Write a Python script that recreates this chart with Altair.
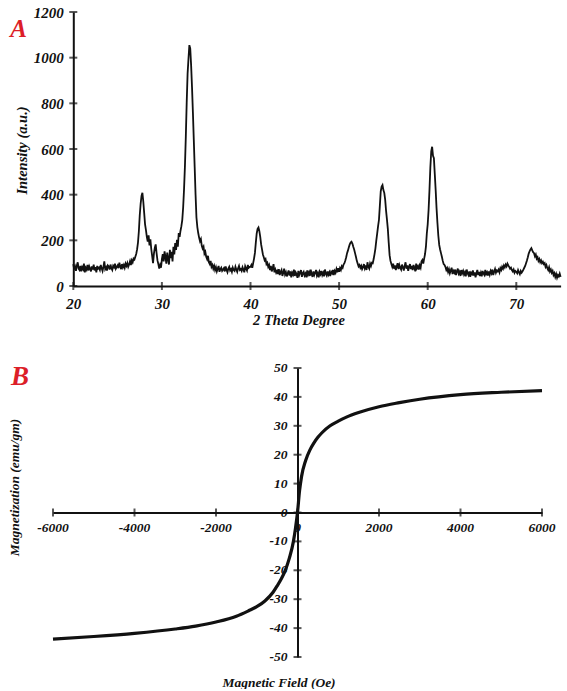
import altair as alt
import pandas as pd

# ---------------- Panel A: XRD pattern ----------------
# Intensity (a.u.) sampled every 0.1 degree of 2-theta, one row per degree (20.0 ... 74.9), plus 75.0
two_theta_start = 20.0
two_theta_step = 0.1
intensity_rows = [
    [96, 72, 84, 66, 90, 104, 76, 70, 88, 64],        # 20
    [82, 74, 98, 60, 80, 72, 92, 68, 86, 76],         # 21
    [64, 86, 72, 94, 68, 82, 60, 88, 76, 80],         # 22
    [70, 92, 78, 66, 84, 108, 74, 82, 68, 90],        # 23
    [86, 72, 94, 78, 70, 88, 82, 98, 76, 84],         # 24
    [90, 78, 102, 86, 74, 96, 82, 92, 80, 98],        # 25
    [88, 100, 84, 94, 108, 92, 112, 104, 120, 116],   # 26
    [128, 140, 160, 190, 240, 310, 360, 395, 408, 370],  # 27
    [320, 270, 245, 215, 195, 222, 178, 204, 162, 132],  # 28
    [100, 142, 168, 182, 144, 112, 96, 76, 92, 80],   # 29
    [118, 140, 108, 152, 128, 98, 146, 118, 94, 158], # 30
    [122, 150, 108, 172, 138, 188, 158, 202, 172, 232],  # 31
    [215, 242, 262, 290, 345, 425, 525, 655, 805, 930],  # 32
    [995, 1055, 1040, 965, 870, 760, 640, 520, 400, 300],  # 33
    [258, 232, 212, 196, 205, 176, 164, 172, 142, 150],  # 34
    [128, 118, 132, 104, 96, 110, 84, 92, 76, 88],    # 35
    [70, 82, 64, 76, 88, 62, 74, 80, 66, 72],         # 36
    [78, 64, 86, 70, 60, 76, 84, 68, 74, 62],         # 37
    [80, 70, 66, 84, 72, 62, 78, 88, 70, 74],         # 38
    [66, 82, 72, 60, 86, 76, 68, 92, 80, 84],         # 39
    [84, 92, 80, 100, 120, 145, 190, 230, 250, 256],  # 40
    [240, 215, 182, 160, 138, 126, 112, 118, 96, 102],  # 41
    [84, 92, 70, 88, 64, 78, 96, 60, 72, 58],         # 42
    [66, 52, 74, 48, 62, 70, 44, 58, 76, 50],         # 43
    [60, 42, 56, 68, 46, 64, 38, 58, 50, 72],         # 44
    [44, 60, 52, 36, 66, 48, 58, 70, 40, 56],         # 45
    [62, 46, 54, 38, 68, 50, 60, 44, 72, 52],         # 46
    [40, 64, 48, 58, 70, 46, 56, 38, 62, 52],         # 47
    [66, 48, 58, 42, 72, 54, 46, 64, 50, 60],         # 48
    [44, 62, 56, 70, 48, 66, 58, 74, 60, 78],         # 49
    [62, 78, 70, 86, 80, 94, 100, 112, 126, 144],     # 50
    [156, 170, 182, 190, 194, 186, 172, 160, 144, 128],  # 51
    [110, 98, 86, 92, 80, 88, 74, 82, 96, 78],        # 52
    [90, 70, 104, 84, 76, 98, 88, 102, 100, 118],     # 53
    [140, 165, 200, 230, 262, 290, 352, 415, 435, 442],  # 54
    [420, 408, 378, 330, 292, 250, 190, 135, 110, 96],   # 55
    [84, 98, 76, 90, 70, 86, 100, 74, 92, 80],        # 56
    [72, 94, 82, 68, 88, 104, 76, 90, 66, 84],        # 57
    [96, 74, 88, 70, 92, 80, 64, 98, 78, 86],         # 58
    [72, 90, 80, 108, 114, 98, 120, 140, 172, 230],   # 59
    [270, 333, 420, 520, 590, 610, 570, 560, 490, 420],  # 60
    [340, 276, 220, 180, 160, 144, 128, 110, 96, 92],    # 61
    [84, 70, 78, 62, 74, 56, 68, 80, 52, 66],         # 62
    [58, 72, 48, 64, 76, 54, 62, 44, 70, 56],         # 63
    [66, 50, 60, 42, 72, 56, 48, 64, 40, 58],         # 64
    [52, 68, 46, 60, 38, 56, 70, 48, 62, 44],         # 65
    [58, 42, 66, 54, 48, 70, 52, 60, 46, 64],         # 66
    [50, 66, 56, 72, 48, 62, 74, 58, 68, 64],         # 67
    [72, 60, 78, 70, 84, 76, 90, 82, 94, 86],         # 68
    [98, 90, 84, 76, 80, 70, 64, 72, 58, 66],         # 69
    [62, 56, 70, 60, 52, 66, 58, 64, 72, 80],         # 70
    [88, 100, 112, 126, 142, 152, 160, 166, 156, 148],  # 71
    [144, 130, 138, 120, 126, 110, 118, 104, 112, 100], # 72
    [106, 96, 100, 84, 92, 78, 70, 82, 64, 72],       # 73
    [58, 66, 48, 56, 40, 52, 36, 48, 42, 54],         # 74
]
intensity_end = [40]                                   # 75.0

theta_ticks = [20, 30, 40, 50, 60, 70]
intensity_ticks = [0, 200, 400, 600, 800, 1000, 1200]

# ---------------- Panel B: VSM magnetization curve ----------------
field_oe = [-6000, -5000, -4000, -3000, -2500, -2000, -1500, -1200, -1000, -800,
            -600, -500, -400, -300, -200, -100, -50, 0, 50, 100, 200, 300, 400,
            500, 600, 800, 1000, 1200, 1500, 2000, 2500, 3000, 4000, 5000, 6000]
magnetization = [-43.8, -42.9, -41.8, -40.3, -39.3, -37.9, -35.9, -34.0, -32.6, -30.6,
                 -27.6, -25.4, -23.0, -20.0, -15.8, -10.0, -5.5, 0.0, 7.5, 12.5, 18.0, 21.5, 24.0,
                 26.0, 27.6, 30.0, 31.6, 33.0, 34.6, 36.6, 38.0, 39.2, 40.8, 41.6, 42.2]

field_ticks = [-6000, -4000, -2000, 0, 2000, 4000, 6000]
mag_ticks = [-50, -40, -30, -20, -10, 0, 10, 20, 30, 40, 50]

# ---------------- shared styling ----------------
SERIF = "Liberation Serif"
INK = "#111111"
RED = "#dc1e28"

intensity = [v for row in intensity_rows for v in row] + intensity_end
two_theta = [round(two_theta_start + i * two_theta_step, 1) for i in range(len(intensity))]

xrd = pd.DataFrame({"theta": two_theta, "intensity": intensity})
vsm = pd.DataFrame({"field": field_oe, "mag": magnetization})


def axis_style(**kw):
    base = dict(
        grid=False, ticks=False, tickSize=0, domainColor=INK, domainWidth=2,
        labelOverlap=False, labelBound=False,
        labelFont=SERIF, labelFontStyle="italic", labelFontWeight="bold", labelColor=INK,
        titleFont=SERIF, titleFontStyle="italic", titleFontWeight="bold", titleColor=INK,
        labelExpr="datum.value + ''",
    )
    base.update(kw)
    return alt.Axis(**base)


# Panel A geometry (plot area of the concat cell; the x range starts 20.3 px in)
A_W, A_H = 508, 274
A_X0 = 20.3

xa_scale = alt.Scale(domain=[20, 75], range=[A_X0, 507.6], nice=False, zero=False)
ya_scale = alt.Scale(domain=[0, 1200], nice=False)

xa_axis = axis_style(values=theta_ticks, title="2 Theta Degree", labelFlush=False,
                     labelPadding=10, labelFontSize=15, titleFontSize=14.5,
                     titleX=245.5, titleY=34, titleBaseline="middle")
ya_axis = axis_style(values=intensity_ticks, title="Intensity (a.u.)", offset=-A_X0,
                     labelPadding=10, labelFontSize=15, titleFontSize=14.5,
                     titleX=-50.5, titleY=138, titleBaseline="middle")

xrd_line = alt.Chart(xrd).mark_line(color=INK, strokeWidth=1.8).encode(
    x=alt.X("theta:Q", scale=xa_scale, axis=xa_axis),
    y=alt.Y("intensity:Q", scale=ya_scale, axis=ya_axis),
)

# tick marks that straddle the axis lines
a_xticks = alt.Chart(pd.DataFrame({"theta": theta_ticks})).mark_tick(
    orient="vertical", size=8, thickness=2, color=INK
).encode(x=alt.X("theta:Q", scale=xa_scale, axis=xa_axis), y=alt.datum(0))

a_yticks = alt.Chart(pd.DataFrame({"intensity": intensity_ticks})).mark_tick(
    orient="horizontal", size=8, thickness=2, color=INK
).encode(y=alt.Y("intensity:Q", scale=ya_scale, axis=ya_axis), x=alt.datum(20))

a_tag = alt.Chart(pd.DataFrame({"t": ["A"]})).mark_text(
    font=SERIF, fontSize=25, fontStyle="italic", fontWeight="bold", color=RED,
    align="center", baseline="alphabetic"
).encode(text="t:N", x=alt.value(-34.5), y=alt.value(25))

panel_a = alt.layer(xrd_line, a_xticks, a_yticks, a_tag).properties(width=A_W, height=A_H)

# Panel B geometry: axes cross at the origin; tick labels are drawn as text marks
B_W, B_H = 489, 289

xb_scale = alt.Scale(domain=[-6000, 6000], nice=False, zero=False)
yb_scale = alt.Scale(domain=[-50, 50], nice=False)

xb_axis = axis_style(values=field_ticks, title="Magnetic Field (Oe)", offset=-B_H / 2,
                     labels=False, titleFontSize=13.5, titleX=225.5, titleY=169.5,
                     titleBaseline="middle")
yb_axis = axis_style(values=mag_ticks, title="Magnetization (emu/gm)", offset=-B_W / 2,
                     labels=False, titleFontSize=13.5,
                     titleX=-283.5, titleY=119, titleBaseline="middle")

vsm_line = alt.Chart(vsm).mark_line(
    color=INK, strokeWidth=3.2, interpolate="monotone"
).encode(
    x=alt.X("field:Q", scale=xb_scale, axis=xb_axis),
    y=alt.Y("mag:Q", scale=yb_scale, axis=yb_axis),
)

field_tick_df = pd.DataFrame({"field": field_ticks, "label": [str(v) for v in field_ticks]})
mag_tick_df = pd.DataFrame({"mag": mag_ticks, "label": [str(v) for v in mag_ticks]})

b_xticks = alt.Chart(field_tick_df).mark_tick(
    orient="vertical", size=8, thickness=2, color=INK
).encode(x=alt.X("field:Q", scale=xb_scale, axis=xb_axis), y=alt.datum(0))

b_yticks = alt.Chart(mag_tick_df).mark_tick(
    orient="horizontal", size=8, thickness=2, color=INK
).encode(y=alt.Y("mag:Q", scale=yb_scale, axis=yb_axis), x=alt.datum(0))

label_style = dict(font=SERIF, fontSize=13.5, fontStyle="italic", fontWeight="bold", color=INK)

b_xlabels = alt.Chart(field_tick_df).mark_text(
    align="center", baseline="top", dy=8, **label_style
).encode(x=alt.X("field:Q", scale=xb_scale, axis=xb_axis), y=alt.datum(0), text="label:N")

b_ylabels = alt.Chart(mag_tick_df).mark_text(
    align="right", baseline="middle", dx=-10, **label_style
).encode(y=alt.Y("mag:Q", scale=yb_scale, axis=yb_axis), x=alt.datum(0), text="label:N")

b_tag = alt.Chart(pd.DataFrame({"t": ["B"]})).mark_text(
    font=SERIF, fontSize=27, fontStyle="italic", fontWeight="bold", color=RED,
    align="center", baseline="alphabetic"
).encode(text="t:N", x=alt.value(-33), y=alt.value(17))

panel_b = alt.layer(b_xlabels, b_ylabels, vsm_line, b_xticks, b_yticks, b_tag).properties(
    width=B_W, height=B_H
)

chart = (
    alt.vconcat(panel_a, panel_b, spacing=82, bounds="flush")
    .properties(padding={"left": 7, "top": 5, "right": 2, "bottom": 0})
    .configure_view(stroke=None)
)

chart.save("out.html", embed_options={"renderer": "svg", "actions": False})
